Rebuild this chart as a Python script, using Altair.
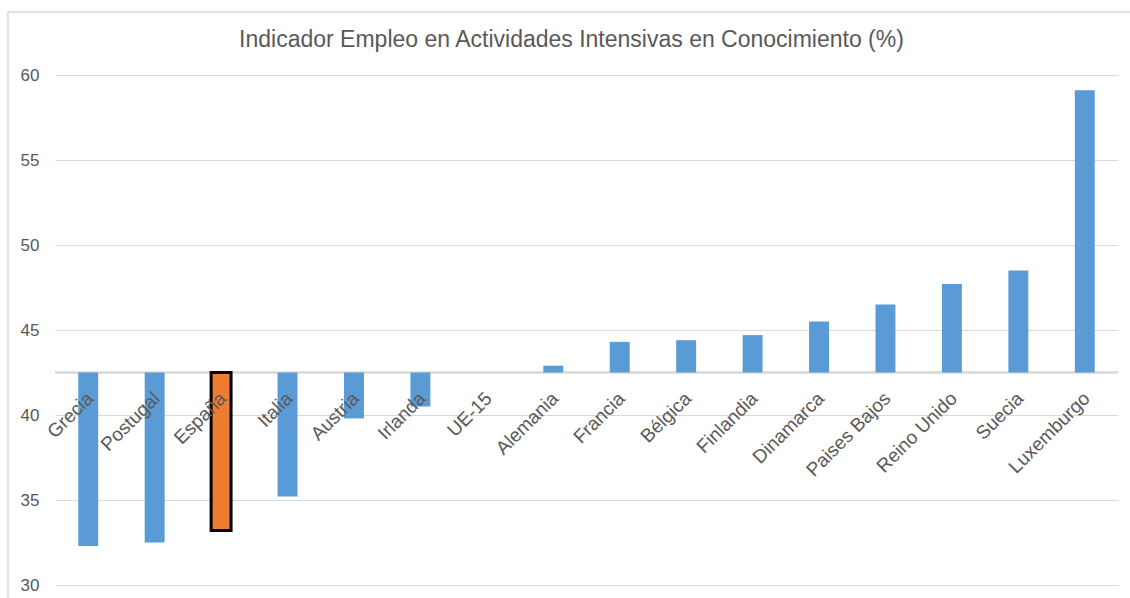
import altair as alt
import pandas as pd

paises = ["Grecia", "Postugal", "España", "Italia", "Austria", "Irlanda", "UE-15",
          "Alemania", "Francia", "Bélgica", "Finlandia", "Dinamarca", "Paises Bajos",
          "Reino Unido", "Suecia", "Luxemburgo"]
valores = [32.3, 32.5, 33.2, 35.2, 39.8, 40.5, 42.5,
           42.9, 44.3, 44.4, 44.7, 45.5, 46.5, 47.7, 48.5, 59.1]
BASE = 42.5  # UE-15 reference level
DESTACADO = "España"

df = pd.DataFrame({"pais": paises, "valor": valores, "base": [BASE] * len(paises)})
base_df = pd.DataFrame({"base": [BASE]})

FONT = "Liberation Sans"
GRAY = "#595959"

x_enc = alt.X("pais:N", sort=paises, axis=None,
              scale=alt.Scale(paddingInner=0.7, paddingOuter=0.35))
y_scale = alt.Scale(domain=[30, 60], nice=False, zero=False)

baseline = alt.Chart(base_df).mark_rule(color="#D9D9D9", strokeWidth=2.5).encode(
    y=alt.Y("base:Q", scale=y_scale)
)

bars = alt.Chart(df).mark_bar(stroke="black").encode(
    x=x_enc,
    y=alt.Y("valor:Q", scale=y_scale, title=None,
            axis=alt.Axis(values=[30, 35, 40, 45, 50, 55, 60], grid=True,
                          gridColor="#D9D9D9", gridWidth=1, domain=False, ticks=False,
                          labelColor=GRAY, labelFontSize=17, labelFont=FONT,
                          labelPadding=16)),
    y2="base:Q",
    color=alt.condition(alt.datum.pais == DESTACADO, alt.value("#ED7D31"), alt.value("#5B9BD5")),
    strokeWidth=alt.condition(alt.datum.pais == DESTACADO, alt.value(3), alt.value(0)),
)

labels = alt.Chart(df).mark_text(
    angle=315, align="right", baseline="middle", xOffset=2, yOffset=23,
    fontSize=19, font=FONT, color=GRAY
).encode(
    x=x_enc,
    y=alt.Y("base:Q", scale=y_scale),
    text="pais:N",
)

frame_left = alt.Chart(base_df).mark_rule(color="#D9D9D9", strokeWidth=1.5).encode(
    x=alt.value(-47), y=alt.value(-63), y2=alt.value(600)
)
frame_top = alt.Chart(base_df).mark_rule(color="#D9D9D9", strokeWidth=1.5).encode(
    x=alt.value(-47), x2=alt.value(1100), y=alt.value(-63)
)

chart = alt.layer(frame_left, frame_top, baseline, bars, labels).properties(
    width=1063,
    height=510,
    padding={"left": 55, "top": 75, "right": 12, "bottom": 13},
    autosize=alt.AutoSizeParams(type="none"),
    background="white",
    title=alt.Title(
        "Indicador Empleo en Actividades Intensivas en Conocimiento (%)",
        font=FONT, fontSize=23, fontWeight="normal", color=GRAY,
        anchor="middle", frame="group", offset=-64, baseline="bottom", dx=-15,
    ),
).configure_view(stroke=None)

chart.save("out.html", embed_options={"renderer": "svg", "actions": False})
